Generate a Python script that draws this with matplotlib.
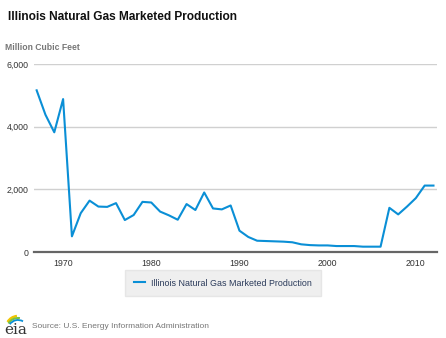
import matplotlib.pyplot as plt
from matplotlib.patches import Arc

plt.rcParams['font.family'] = ['Liberation Sans', 'DejaVu Sans']

# Illinois natural gas marketed production, million cubic feet
years = list(range(1967, 2013))
production = [5160, 4380, 3820, 4880, 500, 1240, 1640, 1450, 1440, 1560,
              1020, 1180, 1600, 1580, 1290, 1170, 1030, 1530, 1340, 1900,
              1390, 1360, 1485, 680, 480, 360, 350, 340, 330, 310,
              245, 220, 210, 210, 190, 190, 190, 170, 170, 170,
              1410, 1200, 1450, 1720, 2120, 2120]
yticks = [0, 2000, 4000, 6000]
xticks = [1970, 1980, 1990, 2000, 2010]
series_name = 'Illinois Natural Gas Marketed Production'

fig = plt.figure(figsize=(4.46, 3.38), dpi=100)
ax = fig.add_axes([34/446, 86/338, 403/446, 188/338])

ax.plot(years, production, color='#0a8fd6', linewidth=1.5, label=series_name)

ax.set_xlim(1966.7, 2012.4)
ax.set_ylim(0, 6000)
ax.set_yticks(yticks)
ax.set_yticklabels([f'{v:,}' for v in yticks])
ax.set_xticks(xticks)
ax.grid(axis='y', color='#d0d0d0', linewidth=1)
ax.set_axisbelow(True)
for s in ['top', 'right', 'left']:
    ax.spines[s].set_visible(False)
ax.spines['bottom'].set_color('#666666')
ax.spines['bottom'].set_linewidth(1.6)
ax.tick_params(axis='y', length=0, labelsize=6.3, labelcolor='#333333', pad=4)
ax.tick_params(axis='x', length=0, labelsize=6.3, labelcolor='#333333', pad=5)

fig.text(8/446, 1 - 17/338, series_name, fontsize=8.6, fontweight='bold',
         va='center', ha='left', color='#111111')
fig.text(5/446, 1 - 47/338, 'Million Cubic Feet', fontsize=6.2, fontweight='bold',
         va='center', ha='left', color='#777777')

leg = fig.legend(loc='center', bbox_to_anchor=(223/446, 1 - 283/338), frameon=True,
                 fontsize=6.4, handlelength=1.3, handletextpad=0.7, borderpad=1.0,
                 borderaxespad=0)
leg.get_frame().set_facecolor('#ebebeb')
leg.get_frame().set_edgecolor('#e2e2e2')
leg.get_frame().set_boxstyle('square', pad=0)
for t in leg.get_texts():
    t.set_color('#2a3a5a')

# eia logo
logo = fig.add_axes([2/446, 1/338, 26/446, 26/338])
logo.set_xlim(0, 26)
logo.set_ylim(0, 26)
logo.axis('off')
logo.text(2, 7, 'eia', fontsize=11, family='DejaVu Serif', color='#333333',
          va='center', ha='left')
logo.add_patch(Arc((16, 9), 24, 24, theta1=95, theta2=150, color='#f2c500', lw=1.8))
logo.add_patch(Arc((16, 8), 22, 22, theta1=80, theta2=150, color='#7cc242', lw=1.5))
logo.add_patch(Arc((16, 7), 20, 20, theta1=60, theta2=145, color='#0a8fd6', lw=1.3))

fig.text(32/446, 1 - 326/338, 'Source: U.S. Energy Information Administration',
         fontsize=6, va='center', ha='left', color='#777777')

fig.savefig('out.png', dpi=100)
